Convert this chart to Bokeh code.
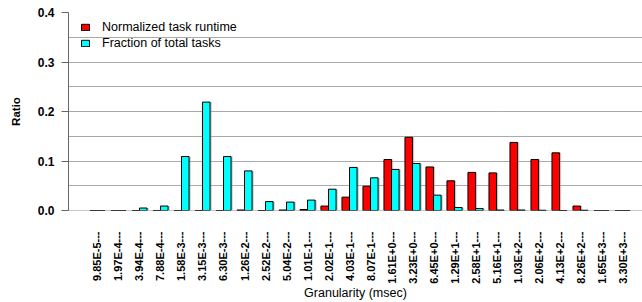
import math
from bokeh.plotting import figure
from bokeh.models import (ColumnDataSource, Range1d, FixedTicker, CustomJSTickFormatter,
                          Legend, LegendItem, Span, PrintfTickFormatter)
from bokeh.transform import dodge
from bokeh.embed import file_html
from bokeh.resources import INLINE

tick_labels = ["9.85E-5---", "1.97E-4---", "3.94E-4---", "7.88E-4---", "1.58E-3---",
               "3.15E-3---", "6.30E-3---", "1.26E-2---", "2.52E-2---", "5.04E-2---",
               "1.01E-1---", "2.02E-1---", "4.03E-1---", "8.07E-1---", "1.61E+0---",
               "3.23E+0---", "6.45E+0---", "1.29E+1---", "2.58E+1---", "5.16E+1---",
               "1.03E+2---", "2.06E+2---", "4.13E+2---", "8.26E+2---", "1.65E+3---",
               "3.30E+3---"]
runtime = [0, 0, 0, 0, 0, 0, 0, 0.001, 0, 0.001, 0.002, 0.009, 0.027, 0.049, 0.103,
           0.148, 0.088, 0.060, 0.077, 0.076, 0.1375, 0.103, 0.1165, 0.009, 0, 0]
fraction = [0, 0, 0.005, 0.009, 0.109, 0.219, 0.109, 0.080, 0.018, 0.017, 0.021, 0.043,
            0.087, 0.066, 0.083, 0.095, 0.031, 0.006, 0.004, 0.001, 0.001, 0.0005, 0,
            0.0005, 0, 0]
y_ticks = [0.0, 0.1, 0.2, 0.3, 0.4]
grid_ticks = [0.0, 0.05, 0.1, 0.15, 0.2, 0.25, 0.3, 0.35, 0.4]

source = ColumnDataSource(dict(idx=list(range(len(tick_labels))), runtime=runtime, fraction=fraction))

FRAME_H = 198
p = figure(width=642, height=302, output_backend="svg", toolbar_location=None,
           x_range=Range1d(-1.38, 25.95), y_range=Range1d(0, 0.4),
           min_border_left=68, min_border_right=0, min_border_top=12, min_border_bottom=90)
p.outline_line_color = None
p.background_fill_color = "white"

W = 0.36
# shadows
p.vbar(x=dodge("idx", -W / 2 + 0.08, range=p.x_range), top="runtime", width=W, source=source,
       fill_color="#999999", fill_alpha=0.5, line_color=None)
p.vbar(x=dodge("idx", W / 2 + 0.08, range=p.x_range), top="fraction", width=W, source=source,
       fill_color="#999999", fill_alpha=0.5, line_color=None)
r1 = p.vbar(x=dodge("idx", -W / 2, range=p.x_range), top="runtime", width=W, source=source,
            fill_color="#ff0000", line_color="black", line_width=1)
r2 = p.vbar(x=dodge("idx", W / 2, range=p.x_range), top="fraction", width=W, source=source,
            fill_color="#00ffff", line_color="black", line_width=1)

p.add_layout(Span(location=0, dimension="width", line_color="#222222", line_dash="1 1", line_width=1))

# grid
p.xgrid.grid_line_color = None
p.ygrid.ticker = FixedTicker(ticks=grid_ticks)
p.ygrid.grid_line_color = "#555555"
p.ygrid.grid_line_dash = "1 1"
p.ygrid.grid_line_width = 1

# y axis
ya = p.yaxis[0]
ya.ticker = FixedTicker(ticks=y_ticks)
ya.formatter = PrintfTickFormatter(format="%.1f")
ya.axis_line_color = "#666666"
ya.major_tick_line_color = "#666666"
ya.major_tick_out = 7
ya.major_tick_in = 0
ya.minor_tick_line_color = None
ya.major_label_standoff = 7
ya.major_label_text_font = "Liberation Sans"
ya.major_label_text_font_style = "bold"
ya.major_label_text_font_size = "12px"
ya.major_label_text_color = "black"
ya.axis_label = "Ratio"
ya.axis_label_text_font = "Liberation Sans"
ya.axis_label_text_font_style = "bold"
ya.axis_label_text_font_size = "11.5px"
ya.axis_label_text_color = "black"
ya.axis_label_standoff = 13

# x axis
xa = p.xaxis[0]
xa.ticker = FixedTicker(ticks=list(range(len(tick_labels))))
xa.formatter = CustomJSTickFormatter(args=dict(labels=tick_labels),
                                     code="const i = Math.round(tick); return (i >= 0 && i < labels.length) ? labels[i] : '';")
xa.axis_line_color = None
xa.major_tick_line_color = None
xa.minor_tick_line_color = None
xa.major_label_orientation = math.pi / 2
xa.major_label_standoff = 15
xa.major_label_text_font = "Liberation Sans"
xa.major_label_text_font_style = "bold"
xa.major_label_text_font_size = "11px"
xa.major_label_text_color = "black"
xa.axis_label = "Granularity (msec)"
xa.axis_label_text_font = "Liberation Sans"
xa.axis_label_text_font_style = "normal"
xa.axis_label_text_font_size = "12.5px"
xa.axis_label_text_color = "black"
xa.axis_label_standoff = -1

legend = Legend(items=[LegendItem(label="Normalized task runtime", renderers=[r1]),
                       LegendItem(label="Fraction of total tasks", renderers=[r2])],
                location=(12, FRAME_H - 7 - 32), orientation="vertical")
legend.border_line_color = None
legend.background_fill_alpha = 0
legend.padding = 0
legend.margin = 0
legend.spacing = 0
legend.label_height = 16
legend.glyph_height = 8
legend.glyph_width = 10
legend.label_standoff = 12
legend.label_text_font = "Liberation Sans"
legend.label_text_font_size = "12.5px"
legend.label_text_color = "black"
p.add_layout(legend, "center")

open("out.html", "w").write(file_html(p, INLINE))
